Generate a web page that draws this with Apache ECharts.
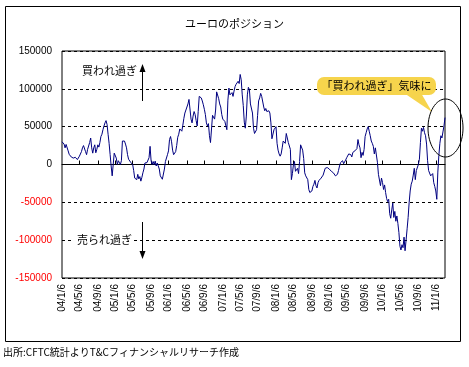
<!DOCTYPE html>
<html><head><meta charset="utf-8">
<script src="https://cdn.jsdelivr.net/npm/echarts@6/dist/echarts.min.js"></script>
<style>html,body{margin:0;padding:0;background:#fff}#c{width:469px;height:367px}</style>
</head><body><div id="c"></div>
<script>
const titleText = 'ユーロのポジション';
const sourceText = '出所:CFTC統計よりT&Cフィナンシャルリサーチ作成';
const overboughtText = '買われ過ぎ';
const oversoldText = '売られ過ぎ';
const calloutText = '「買われ過ぎ」気味に';
const startDate = '2004/1/6';
const tickLabels = ['04/1/6','04/5/6','04/9/6','05/1/6','05/5/6','05/9/6','06/1/6','06/5/6','06/9/6','07/1/6','07/5/6','07/9/6','08/1/6','08/5/6','08/9/6','09/1/6','09/5/6','09/9/6','10/1/6','10/5/6','10/9/6','11/1/6'];
const yMin = -150000, yMax = 150000, yStep = 50000;
// weekly net positions (contracts), from 2004/1/6
const values = [
30000,31500,27000,22000,26500,24000,18000,13500,11000,10000,
9000,8500,8000,9500,7500,6500,8000,11000,13000,17000,
22000,25000,26000,17000,13000,20000,22000,29000,35000,22000,
15000,22000,26000,15500,20000,26000,23000,29000,37000,40000,
46000,51000,55000,58000,53000,40000,28000,13000,-2000,-15000,
0,15000,13000,8500,0,5000,3500,0,5000,31000,
30000,31000,27000,22000,13000,7000,4500,3000,2000,0,
-8000,-18000,-17000,-20000,-13000,-19000,-16000,-22000,-17000,-11000,
-6000,2000,0,2500,5000,9000,24000,5000,0,4000,
0,4500,-2000,2000,0,-6000,-15000,-17500,-19500,-20000,
-6000,4000,5000,13000,18000,33000,37000,30000,19000,13000,
15000,17000,25000,36000,40000,47000,46000,44000,52000,61000,
68000,72000,74000,80000,86000,84000,60000,55000,64000,70000,
66000,58000,51000,70000,90000,92000,88000,84000,79000,73000,
66000,55000,51000,54000,38000,29000,28500,65000,64000,60000,
72000,96000,95000,87000,80000,76000,66000,60000,62000,57000,
55000,46000,85000,101000,92000,90000,95000,90000,97000,103000,
106000,108000,110000,107000,119000,112000,92000,78000,56000,48000,
64000,92000,102000,99000,80000,78000,68000,48000,41000,39000,
46000,65000,84000,88000,94000,90000,88000,76000,71000,74000,
70000,69000,71000,68000,55000,34000,35000,46000,48000,50000,
28000,19000,14000,11000,14000,22000,31000,31000,28000,41000,
39000,29000,28000,20000,-20000,-12000,0,4000,-9000,-11000,
-5000,-12000,4000,26000,24000,19000,8000,-11000,-15000,-13000,
-20000,-33000,-37000,-39000,-35000,-29000,-26000,-21000,-28000,-31000,
-24000,-21000,-20000,-18000,-17000,-14000,-12000,-5000,-3000,-4000,
-4000,-6000,-7000,-9000,-10000,-11000,-10000,-15000,-17000,-13000,
-8000,-2000,2500,5000,5000,1000,500,6000,9000,11000,
14000,16000,13000,10000,16000,14000,18000,16000,21000,33000,
26000,22000,9000,16000,12000,20000,37000,42000,47000,50000,
44000,38000,31000,28000,24000,14000,22000,20000,3000,-13000,
-15000,-28000,-18000,-24000,-33000,-27000,-37000,-45000,-49000,-46000,
-65000,-71000,-60000,-51000,-70000,-62000,-75000,-68000,-78000,-90000,
-108000,-113000,-106000,-110000,-96000,-114000,-100000,-85000,-70000,-50000,
-35000,-26000,-22000,-14000,-5000,-20000,-8000,-9000,0,7000,
29000,48000,44000,49000,42000,38000,27000,5000,-8000,-7000,
-15000,-13000,-12000,-24000,-29000,-35000,-46000,-10000,12000,28000,
38000,35000,43000,51000,62000
];

const WEEK = 7 * 86400000;
function parseD(s) { const p = s.split('/').map(Number); return Date.UTC(p[0], p[1] - 1, p[2]); }
const t0 = parseD(startDate);
const categories = values.map((v, i) => {
  const d = new Date(t0 + i * WEEK);
  return d.getUTCFullYear() + '/' + (d.getUTCMonth() + 1) + '/' + d.getUTCDate();
});
const labelAt = {};
tickLabels.forEach(l => {
  const p = l.split('/').map(Number);
  const t = Date.UTC(2000 + p[0], p[1] - 1, p[2]);
  labelAt[Math.round((t - t0) / WEEK)] = l;
});

const JP = '"Noto Sans CJK JP"';
const chart = echarts.init(document.getElementById('c'), null, { renderer: 'canvas' });
chart.setOption({
  animation: false,
  backgroundColor: '#fff',
  title: {
    text: titleText, left: 'center', top: 13,
    textStyle: { fontSize: 11, fontWeight: 'normal', color: '#000', fontFamily: 'Noto Sans CJK JP' }
  },
  grid: { left: 62, right: 24, top: 51, bottom: 89, show: true, borderColor: '#000', borderWidth: 1, containLabel: false },
  xAxis: [
    {
      type: 'category', data: categories, boundaryGap: false, position: 'bottom',
      axisLine: { show: false, onZero: false }, axisTick: { show: false },
      axisLabel: {
        interval: (i) => labelAt[i] !== undefined,
        formatter: (v, i) => labelAt[i] || '',
        rotate: 90, margin: 6, fontSize: 10, color: '#000', fontFamily: 'Liberation Sans'
      },
      splitLine: { show: false }
    },
    {
      type: 'category', data: categories, boundaryGap: false, position: 'top',
      axisLine: { show: true, onZero: true, lineStyle: { color: '#000', width: 1 } },
      axisTick: { show: true, interval: (i) => labelAt[i] !== undefined && i > 0, length: 4, inside: false, lineStyle: { color: '#000', width: 1 } },
      axisLabel: { show: false }, splitLine: { show: false }
    }
  ],
  yAxis: {
    type: 'value', min: yMin, max: yMax, interval: yStep,
    axisLine: { show: false }, axisTick: { show: false },
    axisLabel: {
      margin: 10, fontSize: 10, fontFamily: 'Liberation Sans',
      color: (v) => (Number(v) < 0 ? '#ff0000' : '#000'),
      formatter: (v) => String(v)
    },
    splitLine: { show: true, lineStyle: { color: '#000', type: [3, 3], width: 1 } }
  },
  series: [{
    type: 'line', data: values, xAxisIndex: 0, yAxisIndex: 0,
    showSymbol: false, symbol: 'none',
    lineStyle: { color: '#000080', width: 1 }
  }],
  graphic: [
    { type: 'rect', silent: true, z: 50, shape: { x: 5.5, y: 6.5, width: 455, height: 335 }, style: { fill: 'none', stroke: '#000', lineWidth: 1 } },
    { type: 'text', silent: true, z: 50, style: { text: overboughtText, x: 82, y: 71, align: 'left', verticalAlign: 'middle', font: '11px ' + JP, fill: '#000' } },
    { type: 'line', silent: true, z: 50, shape: { x1: 142.5, y1: 101, x2: 142.5, y2: 70 }, style: { stroke: '#000', lineWidth: 1 } },
    { type: 'polygon', silent: true, z: 50, shape: { points: [[142.5, 64], [139.5, 72], [145.5, 72]] }, style: { fill: '#000' } },
    { type: 'rect', silent: true, z: 50, shape: { x: 73, y: 233, width: 60, height: 14 }, style: { fill: '#fff' } },
    { type: 'text', silent: true, z: 51, style: { text: oversoldText, x: 77, y: 240, align: 'left', verticalAlign: 'middle', font: '11px ' + JP, fill: '#000' } },
    { type: 'line', silent: true, z: 50, shape: { x1: 142.5, y1: 222, x2: 142.5, y2: 252 }, style: { stroke: '#000', lineWidth: 1 } },
    { type: 'polygon', silent: true, z: 50, shape: { points: [[142.5, 259], [139.5, 251], [145.5, 251]] }, style: { fill: '#000' } },
    { type: 'polygon', silent: true, z: 50, shape: { points: [[404, 93], [421, 93], [432, 112]] }, style: { fill: '#f6d44c' } },
    { type: 'rect', silent: true, z: 50, shape: { x: 317, y: 77, width: 119, height: 18, r: 7 }, style: { fill: '#f6d44c' } },
    { type: 'text', silent: true, z: 51, style: { text: calloutText, x: 376.5, y: 86, align: 'center', verticalAlign: 'middle', font: '11px ' + JP, fill: '#000' } },
    { type: 'ellipse', silent: true, z: 50, shape: { cx: 445.5, cy: 128, rx: 17.5, ry: 29 }, style: { fill: 'none', stroke: '#000', lineWidth: 1 } },
    { type: 'text', silent: true, z: 50, style: { text: sourceText, x: 3, y: 352, align: 'left', verticalAlign: 'middle', font: '10px ' + JP, fill: '#000' } }
  ]
});
</script>
</body></html>
